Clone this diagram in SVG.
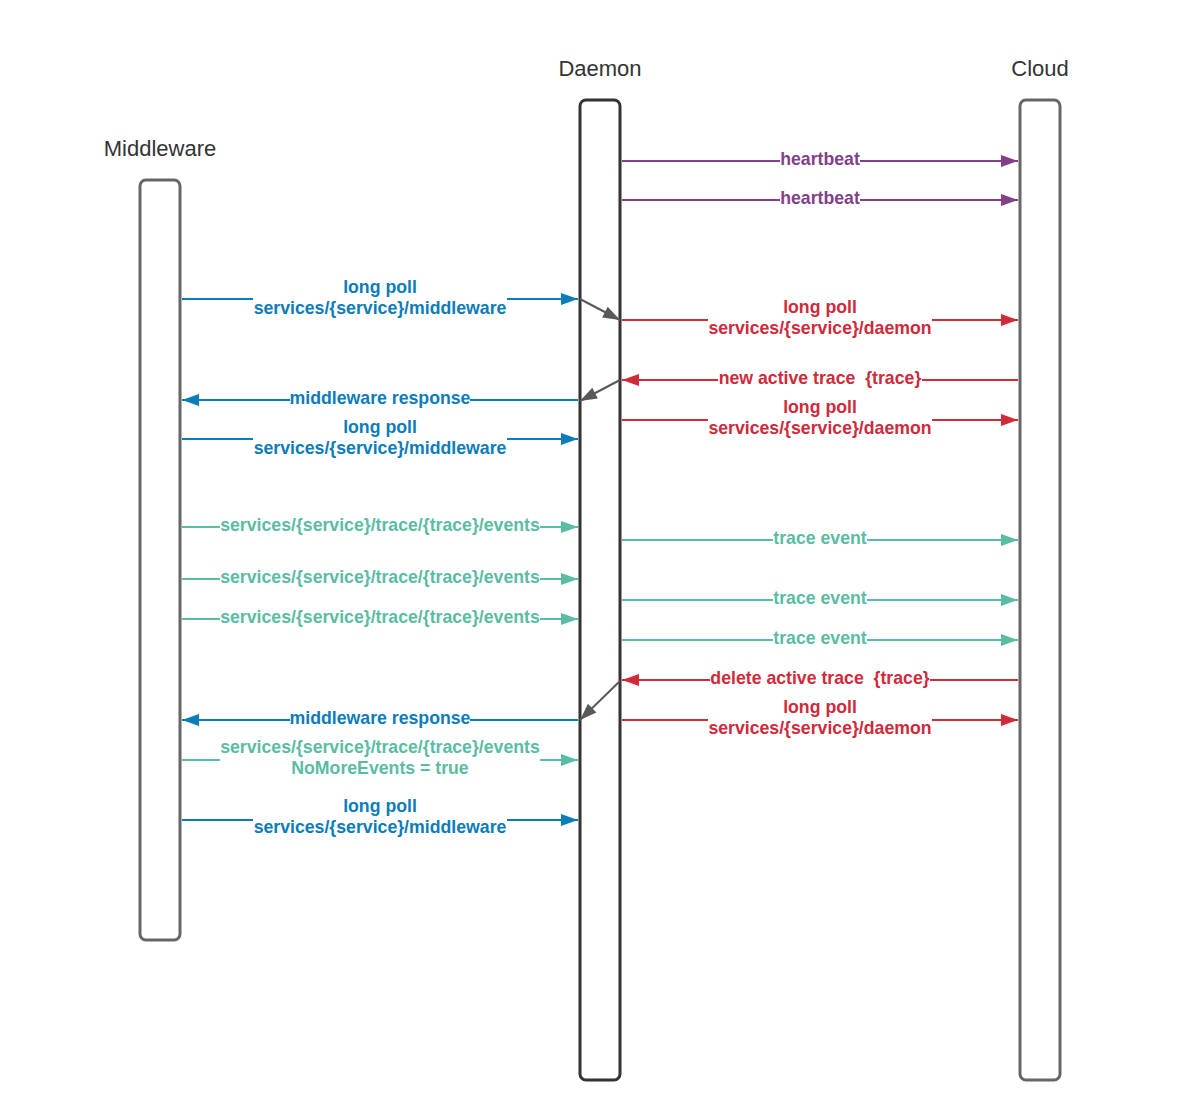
<svg xmlns="http://www.w3.org/2000/svg" width="1200" height="1120" viewBox="0 0 1200 1120">
<style>
.hdr{font-family:"Liberation Sans",Arial,sans-serif;font-size:22px;fill:#333;text-anchor:middle}
.lbl{font-family:"Liberation Sans",Arial,sans-serif;font-size:17.7px;font-weight:bold;text-anchor:middle}
.life{fill:#fff;stroke-width:3}
.c{fill:none;stroke-width:2}
.blue{stroke:#0c7cba}.tblue{fill:#0c7cba}
.red{stroke:#d02a3b}.tred{fill:#d02a3b}
.pur{stroke:#833f8a}.tpur{fill:#833f8a}
.teal{stroke:#5bbca4}.tteal{fill:#5bbca4}
.gray{stroke:#595959}
</style>
<defs>
<marker id="aBlue" markerUnits="userSpaceOnUse" markerWidth="20" markerHeight="14" refX="18" refY="7" orient="auto"><path d="M1,1 L18,7 L1,13 Z" fill="#0c7cba"/></marker>
<marker id="aRed" markerUnits="userSpaceOnUse" markerWidth="20" markerHeight="14" refX="18" refY="7" orient="auto"><path d="M1,1 L18,7 L1,13 Z" fill="#d02a3b"/></marker>
<marker id="aPur" markerUnits="userSpaceOnUse" markerWidth="20" markerHeight="14" refX="18" refY="7" orient="auto"><path d="M1,1 L18,7 L1,13 Z" fill="#833f8a"/></marker>
<marker id="aTeal" markerUnits="userSpaceOnUse" markerWidth="20" markerHeight="14" refX="18" refY="7" orient="auto"><path d="M1,1 L18,7 L1,13 Z" fill="#5bbca4"/></marker>
<marker id="aGray" markerUnits="userSpaceOnUse" markerWidth="20" markerHeight="14" refX="18" refY="7" orient="auto"><path d="M1,1 L18,7 L1,13 Z" fill="#595959"/></marker>
</defs>
<rect width="1200" height="1120" fill="#fff"/>

<g id="middleware">
<rect class="life" x="140" y="180" width="40" height="760" rx="6" stroke="#666"/>
<text class="hdr" x="160" y="156">Middleware</text>
</g>
<g id="daemon">
<rect class="life" x="580" y="100" width="40" height="980" rx="6" stroke="#333"/>
<text class="hdr" x="600" y="76">Daemon</text>
</g>
<g id="cloud">
<rect class="life" x="1020" y="100" width="40" height="980" rx="6" stroke="#666"/>
<text class="hdr" x="1040" y="76">Cloud</text>
</g>

<g id="connectors">
<path class="c pur" d="M622,161 H780 M860,161 H1018" marker-end="url(#aPur)"/>
<text class="lbl tpur" x="820" y="165">heartbeat</text>
<path class="c pur" d="M622,200 H780 M860,200 H1018" marker-end="url(#aPur)"/>
<text class="lbl tpur" x="820" y="204">heartbeat</text>

<path class="c blue" d="M182,299 H253 M507,299 H578" marker-end="url(#aBlue)"/>
<text class="lbl tblue" x="380" y="293">long poll</text>
<text class="lbl tblue" x="380" y="314">services/{service}/middleware</text>
<path class="c gray" d="M580,299 L620,320" marker-end="url(#aGray)"/>

<path class="c red" d="M622,320 H708 M932,320 H1018" marker-end="url(#aRed)"/>
<text class="lbl tred" x="820" y="313">long poll</text>
<text class="lbl tred" x="820" y="334">services/{service}/daemon</text>

<path class="c red" d="M1018,380 H922 M718,380 H622" marker-end="url(#aRed)"/>
<text class="lbl tred" x="820" y="384" xml:space="preserve">new active trace  {trace}</text>
<path class="c gray" d="M620,380 L580,401" marker-end="url(#aGray)"/>

<path class="c blue" d="M578,400 H470 M290,400 H182" marker-end="url(#aBlue)"/>
<text class="lbl tblue" x="380" y="404">middleware response</text>

<path class="c red" d="M622,420 H708 M932,420 H1018" marker-end="url(#aRed)"/>
<text class="lbl tred" x="820" y="413">long poll</text>
<text class="lbl tred" x="820" y="434">services/{service}/daemon</text>

<path class="c blue" d="M182,439 H253 M507,439 H578" marker-end="url(#aBlue)"/>
<text class="lbl tblue" x="380" y="433">long poll</text>
<text class="lbl tblue" x="380" y="454">services/{service}/middleware</text>

<path class="c teal" d="M182,527 H220 M540,527 H578" marker-end="url(#aTeal)"/>
<text class="lbl tteal" x="380" y="531">services/{service}/trace/{trace}/events</text>
<path class="c teal" d="M622,540 H773 M867,540 H1018" marker-end="url(#aTeal)"/>
<text class="lbl tteal" x="820" y="544">trace event</text>

<path class="c teal" d="M182,579 H220 M540,579 H578" marker-end="url(#aTeal)"/>
<text class="lbl tteal" x="380" y="583">services/{service}/trace/{trace}/events</text>
<path class="c teal" d="M622,600 H773 M867,600 H1018" marker-end="url(#aTeal)"/>
<text class="lbl tteal" x="820" y="604">trace event</text>

<path class="c teal" d="M182,619 H220 M540,619 H578" marker-end="url(#aTeal)"/>
<text class="lbl tteal" x="380" y="623">services/{service}/trace/{trace}/events</text>
<path class="c teal" d="M622,640 H773 M867,640 H1018" marker-end="url(#aTeal)"/>
<text class="lbl tteal" x="820" y="644">trace event</text>

<path class="c red" d="M1018,680 H930 M710,680 H622" marker-end="url(#aRed)"/>
<text class="lbl tred" x="820" y="684" xml:space="preserve">delete active trace  {trace}</text>
<path class="c gray" d="M620,681 L580,720" marker-end="url(#aGray)"/>

<path class="c blue" d="M578,720 H470 M290,720 H182" marker-end="url(#aBlue)"/>
<text class="lbl tblue" x="380" y="724">middleware response</text>

<path class="c red" d="M622,720 H708 M932,720 H1018" marker-end="url(#aRed)"/>
<text class="lbl tred" x="820" y="713">long poll</text>
<text class="lbl tred" x="820" y="734">services/{service}/daemon</text>

<path class="c teal" d="M182,760 H220 M540,760 H578" marker-end="url(#aTeal)"/>
<text class="lbl tteal" x="380" y="753">services/{service}/trace/{trace}/events</text>
<text class="lbl tteal" x="380" y="774">NoMoreEvents = true</text>

<path class="c blue" d="M182,820 H253 M507,820 H578" marker-end="url(#aBlue)"/>
<text class="lbl tblue" x="380" y="812">long poll</text>
<text class="lbl tblue" x="380" y="833">services/{service}/middleware</text>
</g>
</svg>
